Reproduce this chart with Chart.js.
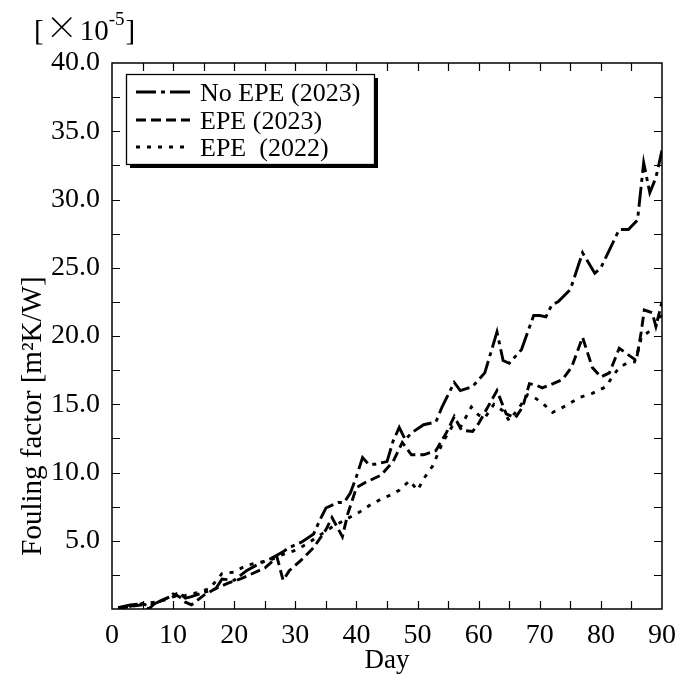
<!DOCTYPE html>
<html>
<head>
<meta charset="utf-8">
<script src="https://cdn.jsdelivr.net/npm/chart.js@4.4.1/dist/chart.umd.min.js"></script>
<style>
  html, body { margin: 0; padding: 0; background: #fff; }
  #c { display: block; }
</style>
</head>
<body>
<canvas id="c" width="681" height="678"></canvas>
<script>
// ---- Data (fouling factor, x10^-5 m2K/W) ----
const seriesLabels = ["No EPE (2023)", "EPE (2023)", "EPE  (2022)"];

const daysNoEPE2023 = [1,3,5,6,8,10,11,12,13,15,17,18,20,22,24,26,28,29,31,33,34,35,37,38,39,40,41,42,43,45,46,47,48,49,51,53,54,56,57,59,61,63,64,65,67,69,70,71,72,73,75,77,79,80,83,84.5,86,87,88,89,90];
const foulingNoEPE2023 = [0.1,0.3,0.4,0.2,0.6,1.0,1.2,0.8,0.9,1.2,1.5,2.2,2.1,2.8,3.3,3.7,4.2,4.5,4.9,5.5,6.5,7.4,7.8,7.8,8.5,9.7,11.1,10.6,10.6,10.8,12.3,13.3,12.4,12.9,13.5,13.7,14.8,16.6,16.0,16.3,17.3,20.3,18.2,18.0,19.0,21.5,21.5,21.4,22.3,22.5,23.4,26.1,24.6,25.0,27.8,27.8,28.5,32.7,30.5,31.6,33.6];

const daysEPE2023 = [1,3,5,6,7,9,10,11,12,13,15,17,19,21,23,25,27,28,29,31,33,35,36,37.7,38.6,40,41.6,44,46,47.5,49,51,53,54.7,56,57.2,59,60,63,64.5,66,67.2,68.3,69.4,70.4,71.6,73.7,75.2,77,78.6,80,81.4,83,85.8,86.6,87.1,88.4,89,90];
const foulingEPE2023 = [0.0,0.2,0.3,0.0,0.4,0.8,1.1,0.9,0.5,0.3,1.0,1.5,1.9,2.2,2.6,3.0,3.8,2.1,2.8,3.6,4.5,5.8,6.7,5.3,7.0,8.9,9.3,9.8,10.8,12.2,11.3,11.3,11.6,12.9,14.1,13.1,13.0,13.6,16.0,14.3,14.0,14.8,16.5,16.4,16.2,16.4,16.8,17.7,19.9,17.7,17.0,17.3,19.1,18.2,20.3,21.9,21.7,20.7,22.5];

const daysEPE2022 = [1,3,5,7,9,10,12,14,16,18,20,22,24,26,28,30,32,34,36,38,40.5,42.5,44.3,45.8,47,48.7,50,51.1,52.5,54.1,55.7,57,58.8,60,61,62.5,64,65,66.7,68,69.1,70.4,72.1,74.3,76.5,78.6,80.9,81.7,83,84.2,85.5,86.3,86.6,89,89.3,90];
const foulingEPE2022 = [0.1,0.2,0.4,0.5,0.7,0.9,1.0,1.2,1.5,2.6,2.7,3.2,3.4,3.6,4.0,4.3,4.8,5.4,6.0,6.5,7.1,7.7,8.1,8.4,8.7,9.4,8.7,9.6,10.5,12.2,13.4,13.3,14.8,14.2,14.0,15.0,14.5,13.8,14.8,15.7,15.5,15.1,14.4,14.9,15.5,15.8,16.3,16.9,17.7,18.0,18.1,19.2,19.9,20.7,21.3,21.5];

const xTickValues = [0,10,20,30,40,50,60,70,80,90];
const yTickValues = [5,10,15,20,25,30,35,40];

const xTitle = "Day";
const yTitle = "Fouling factor [m\u00B2K/W]";

// ---- styling ----
const FONT = '"Liberation Serif", "DejaVu Serif", serif';
const dashStyles = [[20,5,4,5],[10,5],[4,7]];

function toPts(xs, ys){ return xs.map((x,i)=>({x:x, y:ys[i]})); }

const datasets = [
  {label: seriesLabels[0], data: toPts(daysNoEPE2023, foulingNoEPE2023), borderDash: dashStyles[0]},
  {label: seriesLabels[1], data: toPts(daysEPE2023, foulingEPE2023), borderDash: dashStyles[1]},
  {label: seriesLabels[2], data: toPts(daysEPE2022, foulingEPE2022), borderDash: dashStyles[2]},
].map(d => Object.assign(d, {borderColor:'#000', borderWidth:2.9, pointRadius:0, tension:0, fill:false, borderCapStyle:'butt'}));

const decorPlugin = {
  id: 'decor',
  afterDraw(chart) {
    const ctx = chart.ctx;
    const a = chart.chartArea;
    const xs = chart.scales.x, ys = chart.scales.y;
    ctx.save();
    // frame
    ctx.strokeStyle = '#000';
    ctx.lineWidth = 1.5;
    ctx.setLineDash([]);
    ctx.strokeRect(a.left, a.top, a.right - a.left, a.bottom - a.top);
    // inward ticks (major + minor) on all four sides
    const tl = 8;
    ctx.lineWidth = 1.2;
    ctx.beginPath();
    for (let v = 5; v < 90; v += 5) {
      const p = Math.round(xs.getPixelForValue(v)) + 0.5;
      ctx.moveTo(p, a.bottom); ctx.lineTo(p, a.bottom - tl);
      ctx.moveTo(p, a.top); ctx.lineTo(p, a.top + tl);
    }
    for (let v = 2.5; v < 40; v += 2.5) {
      const p = Math.round(ys.getPixelForValue(v)) + 0.5;
      ctx.moveTo(a.left, p); ctx.lineTo(a.left + tl, p);
      ctx.moveTo(a.right, p); ctx.lineTo(a.right - tl, p);
    }
    ctx.stroke();

    // axis titles
    ctx.fillStyle = '#000';
    ctx.font = '27px ' + FONT;
    ctx.textAlign = 'center';
    ctx.textBaseline = 'alphabetic';
    ctx.fillText(xTitle, (a.left + a.right) / 2, 668);

    ctx.save();
    ctx.translate(41, 416);
    ctx.rotate(-Math.PI / 2);
    ctx.font = '29px ' + FONT;
    ctx.textBaseline = 'alphabetic';
    ctx.fillText(yTitle, 0, 0);
    ctx.restore();

    // multiplier label [x10^-5]
    ctx.textAlign = 'left';
    let x = 34;
    const base = 40;
    ctx.font = '29px ' + FONT;
    ctx.fillText('[', x, base);
    x += ctx.measureText('[').width + 2;
    ctx.font = '32px "DejaVu Sans", sans-serif';
    ctx.save();
    ctx.font = '300 32px "Noto Sans CJK JP", "DejaVu Sans", sans-serif';
    ctx.fillText('\u00D7', x, base - 1);
    x += ctx.measureText('\u00D7').width + 2;
    ctx.restore();
    ctx.font = '29px ' + FONT;
    ctx.fillText('10', x, base);
    x += ctx.measureText('10').width;
    ctx.font = '19px ' + FONT;
    ctx.fillText('-5', x, base - 15);
    x += ctx.measureText('-5').width + 1;
    ctx.font = '29px ' + FONT;
    ctx.fillText(']', x, base);

    // legend box with shadow
    const L = 126, T = 74, R = 374, B = 164;
    ctx.fillStyle = '#000';
    ctx.fillRect(L + 4, T + 4, R - L, B - T);
    ctx.fillStyle = '#fff';
    ctx.fillRect(L, T, R - L, B - T);
    ctx.strokeStyle = '#000';
    ctx.lineWidth = 1.3;
    ctx.strokeRect(L + 0.5, T + 0.5, R - L, B - T);
    const rows = [92, 120, 147];
    chart.data.datasets.forEach((ds, i) => {
      ctx.beginPath();
      ctx.lineWidth = 2.9;
      ctx.setLineDash(ds.borderDash);
      ctx.moveTo(136, rows[i]);
      ctx.lineTo(190, rows[i]);
      ctx.stroke();
      ctx.setLineDash([]);
      ctx.fillStyle = '#000';
      ctx.font = '26px ' + FONT;
      ctx.textAlign = 'left';
      ctx.textBaseline = 'middle';
      ctx.fillText(ds.label, 200, rows[i] + 2);
    });
    ctx.restore();
  }
};

new Chart(document.getElementById('c'), {
  type: 'line',
  data: { datasets: datasets },
  options: {
    responsive: false,
    animation: false,
    devicePixelRatio: 1,
    layout: { padding: { top: 63, right: 19, left: 0, bottom: 0 } },
    plugins: { legend: { display: false }, tooltip: { enabled: false } },
    scales: {
      x: {
        type: 'linear', min: 0, max: 90,
        grid: { display: false },
        border: { display: false },
        afterBuildTicks: (s) => { s.ticks = xTickValues.map(v => ({value: v})); },
        afterFit: (s) => { s.height = 69; },
        ticks: { color: '#000', font: { family: FONT, size: 28 }, padding: 2, maxRotation: 0,
                 callback: (v) => String(v) }
      },
      y: {
        type: 'linear', min: 0, max: 40,
        grid: { display: false },
        border: { display: false },
        afterBuildTicks: (s) => { s.ticks = yTickValues.map(v => ({value: v})); },
        afterFit: (s) => { s.width = 112; },
        ticks: { color: '#000', font: { family: FONT, size: 28 }, padding: 4,
                 callback: (v) => Number(v).toFixed(1) }
      }
    }
  },
  plugins: [decorPlugin]
});
</script>
</body>
</html>
